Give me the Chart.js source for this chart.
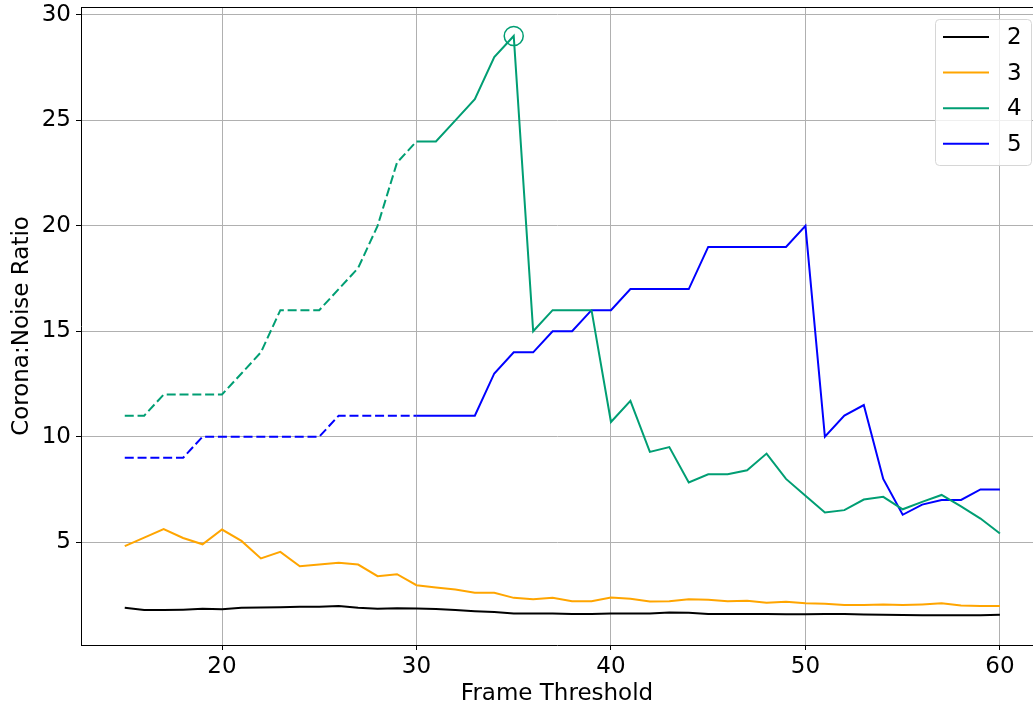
<!DOCTYPE html>
<html>
<head>
<meta charset="utf-8">
<title>Corona:Noise Ratio vs Frame Threshold</title>
<script src="https://cdn.jsdelivr.net/npm/chart.js@4.4.1/dist/chart.umd.min.js"></script>
<style>
  html, body { margin: 0; padding: 0; background: #fff; }
  #wrap { width: 1033px; height: 708px; position: relative; }
</style>
</head>
<body>
<div id="wrap"><canvas id="chart"></canvas></div>
<script>
// frame thresholds on the x axis
const THRESHOLDS = [15,16,17,18,19,20,21,22,23,24,25,26,27,28,29,30,31,32,33,34,35,36,37,38,39,40,
  41,42,43,44,45,46,47,48,49,50,51,52,53,54,55,56,57,58,59,60];

// corona:noise ratio per series
const RATIO_2 = [1.89,1.78,1.78,1.80,1.84,1.82,1.89,1.90,1.92,1.94,1.94,1.97,1.89,1.84,1.87,1.86,
  1.83,1.78,1.73,1.69,1.62,1.62,1.62,1.59,1.59,1.62,1.62,1.62,1.67,1.65,1.59,1.59,1.59,1.59,1.58,
  1.58,1.59,1.59,1.57,1.56,1.55,1.54,1.54,1.53,1.54,1.56];
const RATIO_3 = [4.81,5.22,5.62,5.20,4.90,5.60,5.06,4.23,4.54,3.86,3.94,4.02,3.94,3.39,3.48,2.96,
  2.85,2.76,2.60,2.60,2.36,2.29,2.36,2.20,2.20,2.38,2.32,2.19,2.20,2.29,2.27,2.20,2.22,2.13,2.17,
  2.10,2.08,2.02,2.02,2.05,2.02,2.05,2.10,2.00,1.97,1.97];
const RATIO_4 = [11,11,12,12,12,12,13,14,16,16,16,17,18,20,23,24,24,25,26,28,29,15,16,16,16,10.7,
  11.7,9.28,9.51,7.83,8.22,8.22,8.41,9.2,8.0,7.2,6.41,6.52,7.02,7.15,6.56,6.91,7.24,6.7,6.12,5.41];
const RATIO_5 = [9,9,9,9,10,10,10,10,10,10,10,11,11,11,11,11,11,11,11,13,14,14,15,15,16,16,
  17,17,17,17,19,19,19,19,19,20,10,11,11.5,8,6.3,6.78,7,7,7.5,7.5];

const LABELS = ['2','3','4','5'];
const COLORS = ['#000000','#FFA500','#009E73','#0000FF'];
const DASH_UNTIL = 30;        // series 4 and 5 are dashed up to this threshold
const PEAK = { x: 35, y: 29 }; // ringed maximum of series 4

const X_TICKS = [20,30,40,50,60];
const Y_TICKS = [5,10,15,20,25,30];

const FONT = "'DejaVu Sans', sans-serif";
const FSIZE = 23;

function pts(ys){ return THRESHOLDS.map((x,i)=>({ x, y: ys[i] })); }

function series(i, ys, dashed){
  const ds = {
    label: LABELS[i],
    data: pts(ys),
    borderColor: COLORS[i],
    backgroundColor: COLORS[i],
    borderWidth: 2,
    pointRadius: 0,
    tension: 0,
    legend: true
  };
  if (dashed) ds.segment = { borderDash: c => c.p1.parsed.x <= DASH_UNTIL ? [9,3.8] : undefined };
  return ds;
}

// top spine + legend box drawn on the canvas
const frame = {
  id: 'frame',
  afterDatasetsDraw(chart){
    const { ctx, chartArea: a } = chart;
    ctx.save();
    ctx.strokeStyle = '#000';
    ctx.lineWidth = 1;
    ctx.beginPath();
    ctx.moveTo(a.left, a.top + 0.5);
    ctx.lineTo(a.right, a.top + 0.5);
    ctx.stroke();

    const items = chart.data.datasets.filter(d => d.legend);
    const bx = 935.5, by = 19.5, bw = 96, bh = 146;
    ctx.beginPath();
    ctx.roundRect(bx, by, bw, bh, 4);
    ctx.fillStyle = 'rgba(255,255,255,0.8)';
    ctx.fill();
    ctx.strokeStyle = '#d6d6d6';
    ctx.stroke();

    ctx.font = FSIZE + 'px ' + FONT;
    ctx.textBaseline = 'middle';
    ctx.textAlign = 'left';
    items.forEach((d, i) => {
      const y = 37 + i * 35.6;
      ctx.strokeStyle = d.borderColor;
      ctx.lineWidth = 2;
      ctx.beginPath();
      ctx.moveTo(943, y);
      ctx.lineTo(989, y);
      ctx.stroke();
      ctx.fillStyle = '#000';
      ctx.fillText(d.label, 1007, y + 1);
    });
    ctx.restore();
  }
};

new Chart(document.getElementById('chart'), {
  type: 'line',
  data: {
    datasets: [
      series(0, RATIO_2, false),
      series(1, RATIO_3, false),
      series(2, RATIO_4, true),
      series(3, RATIO_5, true),
      {
        label: 'peak',
        data: [PEAK],
        showLine: false,
        pointRadius: 9.5,
        pointBorderWidth: 1.5,
        pointBorderColor: COLORS[2],
        pointBackgroundColor: 'rgba(0,0,0,0)',
        borderColor: COLORS[2]
      }
    ]
  },
  options: {
    responsive: true,
    maintainAspectRatio: false,
    animation: false,
    layout: { autoPadding: false, padding: { left: 0, top: 7, right: 0, bottom: 0 } },
    plugins: { legend: { display: false }, tooltip: { enabled: false } },
    scales: {
      x: {
        type: 'linear',
        min: 12.75,
        max: 61.7,
        afterBuildTicks: s => { s.ticks = X_TICKS.map(v => ({ value: v })); },
        afterFit: s => { s.height = 63; s.paddingLeft = 0; s.paddingRight = 0; },
        grid: { color: '#b0b0b0', lineWidth: 1, tickLength: 5, tickColor: '#000' },
        border: { color: '#000', width: 1 },
        ticks: { color: '#000', font: { family: FONT, size: FSIZE }, padding: 3, maxRotation: 0 },
        title: { display: true, text: 'Frame Threshold', color: '#000',
                 font: { family: FONT, size: FSIZE }, padding: { top: 0, bottom: 0 } }
      },
      y: {
        type: 'linear',
        min: 0.125,
        max: 30.375,
        afterBuildTicks: s => { s.ticks = Y_TICKS.map(v => ({ value: v })); },
        afterFit: s => { s.width = 81; s.paddingTop = 0; s.paddingBottom = 0; },
        grid: { color: '#b0b0b0', lineWidth: 1, tickLength: 5, tickColor: '#000' },
        border: { color: '#000', width: 1 },
        ticks: { color: '#000', font: { family: FONT, size: FSIZE }, padding: 5 },
        title: { display: true, text: 'Corona:Noise Ratio', color: '#000',
                 font: { family: FONT, size: FSIZE }, padding: { top: 8, bottom: 0 } }
      }
    }
  },
  plugins: [frame]
});
</script>
</body>
</html>
